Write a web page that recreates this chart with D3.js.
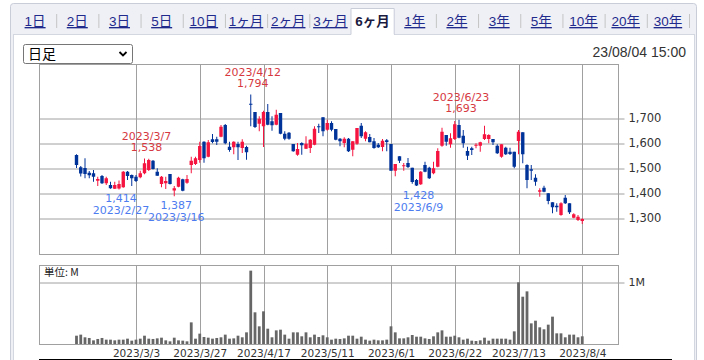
<!DOCTYPE html>
<html><head><meta charset="utf-8">
<script src="https://cdn.jsdelivr.net/npm/d3@7"></script>
<style>html,body{margin:0;padding:0;background:#fff;} svg{display:block;}</style>
</head><body><svg id="c" width="704" height="360"></svg>
<script>
const tabs = ["1日","2日","3日","5日","10日","1ヶ月","2ヶ月","3ヶ月","6ヶ月","1年","2年","3年","5年","10年","20年","30年"];
const selectedTab = "6ヶ月";
const dates = [
"2023/2/10","2023/2/13","2023/2/14","2023/2/15","2023/2/16","2023/2/17","2023/2/20","2023/2/21","2023/2/22","2023/2/24","2023/2/27","2023/2/28",
"2023/3/1","2023/3/2","2023/3/3","2023/3/6","2023/3/7","2023/3/8","2023/3/9","2023/3/10","2023/3/13","2023/3/14","2023/3/15","2023/3/16","2023/3/17","2023/3/20","2023/3/22","2023/3/23","2023/3/24","2023/3/27","2023/3/28","2023/3/29","2023/3/30","2023/3/31",
"2023/4/3","2023/4/4","2023/4/5","2023/4/6","2023/4/7","2023/4/10","2023/4/11","2023/4/12","2023/4/13","2023/4/14","2023/4/17","2023/4/18","2023/4/19","2023/4/20","2023/4/21","2023/4/24","2023/4/25","2023/4/26","2023/4/27","2023/4/28",
"2023/5/1","2023/5/2","2023/5/8","2023/5/9","2023/5/10","2023/5/11","2023/5/12","2023/5/15","2023/5/16","2023/5/17","2023/5/18","2023/5/19","2023/5/22","2023/5/23","2023/5/24","2023/5/25","2023/5/26","2023/5/29","2023/5/30","2023/5/31",
"2023/6/1","2023/6/2","2023/6/5","2023/6/6","2023/6/7","2023/6/8","2023/6/9","2023/6/12","2023/6/13","2023/6/14","2023/6/15","2023/6/16","2023/6/19","2023/6/20","2023/6/21","2023/6/22","2023/6/23","2023/6/26","2023/6/27","2023/6/28","2023/6/29","2023/6/30",
"2023/7/3","2023/7/4","2023/7/5","2023/7/6","2023/7/7","2023/7/10","2023/7/11","2023/7/12","2023/7/13","2023/7/14","2023/7/18","2023/7/19","2023/7/20","2023/7/21","2023/7/24","2023/7/25","2023/7/26","2023/7/27","2023/7/28","2023/7/31",
"2023/8/1","2023/8/2","2023/8/3","2023/8/4"];
const open  = [1552,1503,1500,1481,1479,1449,1468,1439,1432,1417,1418,1423,1485,1472,1465,1463,1479,1492,1529,1485,1436,1439,1476,1410,1425,1455,1441,1512,1516,1532,1605,1545,1615,1615,1625,1672,1585,1583,1596,1580,1584,1757,1724,1677,1667,1724,1687,1673,1720,1637,1641,1596,1553,1600,1577,1580,1593,1667,1703,1653,1680,1656,1617,1600,1617,1573,1597,1669,1617,1624,1607,1593,1584,1611,1596,1489,1547,1509,1520,1501,1452,1435,1512,1501,1479,1505,1589,1632,1595,1616,1672,1629,1568,1579,1591,1589,1616,1616,1616,1589,1545,1581,1565,1565,1608,1643,1512,1495,1461,1405,1421,1399,1363,1349,1312,1381,1359,1301,1292,1288];
const high  = [1555,1508,1539,1488,1492,1465,1472,1465,1445,1445,1450,1488,1488,1474,1472,1489,1538,1537,1532,1499,1468,1465,1476,1428,1465,1457,1472,1545,1545,1605,1607,1612,1636,1625,1672,1676,1605,1607,1605,1615,1589,1794,1724,1707,1729,1756,1707,1733,1720,1647,1644,1596,1600,1603,1627,1616,1667,1677,1703,1693,1687,1656,1620,1623,1620,1607,1660,1680,1647,1636,1620,1600,1616,1616,1596,1516,1547,1520,1540,1501,1456,1488,1525,1505,1525,1579,1661,1632,1639,1688,1693,1652,1585,1585,1599,1605,1669,1635,1616,1595,1595,1585,1581,1565,1652,1643,1515,1512,1475,1419,1429,1399,1363,1359,1363,1392,1359,1319,1312,1299];
const low   = [1500,1466,1459,1459,1445,1428,1436,1432,1417,1416,1414,1421,1452,1428,1444,1459,1475,1488,1494,1469,1423,1416,1434,1387,1423,1407,1437,1479,1512,1521,1521,1543,1599,1592,1623,1595,1565,1555,1532,1560,1533,1667,1660,1647,1584,1671,1649,1671,1635,1611,1613,1565,1549,1553,1576,1560,1591,1640,1627,1649,1647,1611,1587,1583,1564,1547,1593,1620,1607,1603,1577,1580,1567,1567,1489,1467,1520,1489,1500,1437,1428,1432,1483,1456,1475,1503,1585,1589,1581,1612,1619,1581,1532,1552,1579,1565,1612,1599,1592,1556,1541,1552,1552,1499,1555,1519,1419,1452,1429,1385,1403,1355,1319,1325,1309,1356,1316,1299,1288,1276];
const close = [1512,1478,1476,1471,1465,1456,1439,1459,1419,1432,1436,1485,1468,1459,1448,1479,1519,1532,1496,1469,1465,1448,1436,1419,1461,1409,1456,1529,1539,1588,1539,1603,1604,1605,1665,1599,1572,1605,1583,1605,1563,1754,1664,1697,1724,1673,1671,1713,1637,1617,1617,1567,1576,1591,1597,1613,1657,1663,1647,1680,1653,1613,1607,1617,1567,1607,1660,1627,1643,1603,1580,1583,1609,1604,1489,1516,1529,1511,1504,1444,1430,1485,1485,1459,1499,1568,1645,1605,1619,1675,1621,1599,1549,1572,1593,1603,1635,1632,1603,1559,1595,1555,1556,1505,1645,1555,1452,1489,1445,1411,1405,1368,1343,1343,1359,1359,1323,1315,1305,1296];
const volume = [134,151,108,97,59,81,97,70,70,59,70,70,86,54,70,86,134,86,81,91,102,59,43,102,59,54,43,349,86,167,113,102,86,97,108,151,86,91,134,108,188,1183,511,285,527,247,108,220,231,151,86,188,188,124,188,108,151,113,140,108,70,86,81,91,134,134,86,118,70,54,70,59,59,70,285,188,91,91,108,145,118,118,91,81,124,188,220,118,118,134,108,70,86,54,48,59,102,54,86,86,86,86,70,204,995,763,849,333,376,269,237,312,441,172,172,108,151,151,108,124];
const tickDates = ["2023/3/3","2023/3/27","2023/4/17","2023/5/11","2023/6/1","2023/6/22","2023/7/13","2023/8/4"];
const priceTicks = [1300,1400,1500,1600,1700];
const volumeTicks = [1000];
const annotations = [
  {date:"2023/4/12", value:1794, kind:"high"},
  {date:"2023/3/7",  value:1538, kind:"high"},
  {date:"2023/6/23", value:1693, kind:"high"},
  {date:"2023/2/27", value:1414, kind:"low"},
  {date:"2023/3/16", value:1387, kind:"low"},
  {date:"2023/6/9",  value:1428, kind:"low"}
];
const timestamp = "23/08/04 15:00";
const periodLabel = "日足";
const unitLabel = "単位: M";

const svg = d3.select("#c");
const UP = "#f5143f", DOWN = "#00339a";
const GRID = "#a0a0a0";

// ---------- frame & tabs ----------
svg.append("rect").attr("x",10.5).attr("y",3.5).attr("width",686).attr("height",370).attr("rx",3)
  .attr("fill","#eef0f6").attr("stroke","#c9cdd8");
svg.append("rect").attr("x",13.5).attr("y",34.5).attr("width",681).attr("height",340)
  .attr("fill","#fff").attr("stroke","#d3d7e0");

const tabX = d3.scaleBand().domain(tabs).range([14,689]);
const selX = tabX(selectedTab);
svg.append("path")
  .attr("d",`M${selX-0.5},35 V8.5 H${selX+tabX.bandwidth()+0.5} V35`)
  .attr("fill","#fff").attr("stroke","#c9cdd8");
svg.append("rect").attr("x",selX).attr("y",34).attr("width",tabX.bandwidth()).attr("height",2).attr("fill","#fff");
tabs.forEach((t,k)=>{
  const cx = tabX(t)+tabX.bandwidth()/2;
  const sel = t===selectedTab;
  svg.append("text").attr("x",cx).attr("y",26).attr("text-anchor","middle")
    .attr("font-family","'Liberation Sans','Noto Sans CJK JP',sans-serif")
    .attr("font-size",13.5).attr("font-weight",sel?"bold":"normal")
    .attr("fill",sel?"#1a1a40":"#1f2a8c")
    .attr("text-decoration",sel?"none":"underline")
    .text(t);
  const nextSel = tabs[k+1]===selectedTab;
  if(!sel && !nextSel){
    const sx = tabX(t)+tabX.bandwidth();
    svg.append("line").attr("x1",sx+0.5).attr("x2",sx+0.5).attr("y1",14).attr("y2",28).attr("stroke","#c4c4c4");
  }
});

// select box
svg.append("rect").attr("x",23.5).attr("y",44.5).attr("width",109).attr("height",19).attr("rx",2)
  .attr("fill","#fff").attr("stroke","#767676");
svg.append("text").attr("x",28).attr("y",59).attr("font-size",14)
  .attr("font-family","'Noto Sans CJK JP',sans-serif").attr("fill","#000").text(periodLabel);
svg.append("path").attr("d","M119.5,52 l3.5,3.5 l3.5,-3.5").attr("fill","none").attr("stroke","#000").attr("stroke-width",1.8);

svg.append("text").attr("x",686).attr("y",57).attr("text-anchor","end").attr("font-size",14)
  .attr("font-family","'Liberation Sans',sans-serif").attr("fill","#333").text(timestamp);

// ---------- scales ----------
const L = 39.5, R = 618.5;
const idx = d => dates.indexOf(d);
const x = d3.scaleLinear().domain([0, dates.length-1]).range([76.5, 582.25]);
const y = d3.scaleLinear().domain([1300,1700]).range([218,118]);
const yv = d3.scaleLinear().domain([0,1000]).range([344,282]);

const priceTop = 64.5, priceBot = 254.5;
const volTop = 265.5, volBot = 344.5;

// price panel
const gp = svg.append("g");
gp.append("rect").attr("x",L).attr("y",priceTop).attr("width",R-L).attr("height",priceBot-priceTop)
  .attr("fill","#fff").attr("stroke",GRID);
const yAxis = d3.axisRight(y).tickValues(priceTicks).tickSize(-(R-L)).tickSizeOuter(0)
  .tickFormat(d3.format(","));
const ga = gp.append("g").attr("transform",`translate(${R+6},0)`).call(yAxis);
ga.select(".domain").remove();
ga.selectAll(".tick line").attr("stroke",GRID).attr("x2",-(R-L)-6).attr("x1",0)
  .attr("transform","translate(0,0.5)");
ga.selectAll(".tick text").attr("x",4).attr("fill","#333").attr("font-size",11.5)
  .attr("font-family","'DejaVu Sans',sans-serif");
tickDates.forEach(d=>{
  const xx = Math.round(x(idx(d)))+0.5;
  gp.append("line").attr("x1",xx).attr("x2",xx).attr("y1",priceTop).attr("y2",priceBot).attr("stroke",GRID);
});

// candles
const cw = 3.4;
const candles = gp.append("g").selectAll("g").data(dates).join("g");
candles.append("line")
  .attr("x1",(d,i)=>x(i)).attr("x2",(d,i)=>x(i))
  .attr("y1",(d,i)=>y(high[i])).attr("y2",(d,i)=>y(low[i]))
  .attr("stroke",(d,i)=>close[i]>=open[i]?UP:DOWN).attr("stroke-width",1);
candles.append("rect")
  .attr("x",(d,i)=>x(i)-cw/2).attr("width",cw)
  .attr("y",(d,i)=>y(Math.max(open[i],close[i])))
  .attr("height",(d,i)=>Math.max(1,Math.abs(y(open[i])-y(close[i]))))
  .attr("fill",(d,i)=>close[i]>=open[i]?UP:DOWN);

// annotations
annotations.forEach(a=>{
  const i = idx(a.date), cx = x(i)+2, yy = y(a.value);
  const col = a.kind==="high" ? "#d6393f" : "#4d7cf0";
  const val = d3.format(",")(a.value);
  const lines = a.kind==="high" ? [[a.date, yy-19],[val, yy-7.5]] : [[val, yy+12.5],[a.date, yy+24.5]];
  lines.forEach(([t,ty])=>{
    gp.append("text").attr("x",cx).attr("y",ty).attr("text-anchor","middle")
      .attr("font-family","'DejaVu Sans',sans-serif").attr("font-size",11)
      .attr("fill",col).text(t);
  });
});

// volume panel
const gv = svg.append("g");
gv.append("rect").attr("x",L).attr("y",volTop).attr("width",R-L).attr("height",volBot-volTop)
  .attr("fill","#fff").attr("stroke",GRID);
const vAxis = d3.axisRight(yv).tickValues(volumeTicks).tickSize(0).tickFormat(()=> "1M");
const gva = gv.append("g").attr("transform",`translate(${R+6},0)`).call(vAxis);
gva.select(".domain").remove();
gva.selectAll(".tick line").attr("stroke",GRID).attr("x1",0).attr("x2",-(R-L)-6).attr("transform","translate(0,0.5)");
gva.selectAll(".tick text").attr("x",4).attr("fill","#333").attr("font-size",11)
  .attr("font-family","'DejaVu Sans',sans-serif");
tickDates.forEach(d=>{
  const xx = Math.round(x(idx(d)))+0.5;
  gv.append("line").attr("x1",xx).attr("x2",xx).attr("y1",volTop).attr("y2",volBot).attr("stroke",GRID);
});
gv.append("g").selectAll("rect").data(volume).join("rect")
  .attr("x",(d,i)=>x(i)-1.4).attr("width",2.8)
  .attr("y",d=>yv(d)).attr("height",d=>344-yv(d)).attr("fill","#666");
gv.append("text").attr("x",44).attr("y",276).attr("font-size",10.5)
  .attr("font-family","'Noto Sans CJK JP',sans-serif").attr("fill","#222").text(unitLabel);

// date labels
const xAxis = d3.axisBottom(x).tickValues(tickDates.map(idx)).tickSize(0).tickFormat(i=>dates[i]);
const gx = svg.append("g").attr("transform",`translate(0,${volBot})`).call(xAxis);
gx.select(".domain").remove();
gx.selectAll(".tick text").attr("dy",0).attr("y",12).attr("fill","#333").attr("font-size",10.5)
  .attr("font-family","'DejaVu Sans',sans-serif");

svg.append("line").attr("x1",39).attr("x2",672).attr("y1",359.5).attr("y2",359.5).attr("stroke","#000");
</script></body></html>
